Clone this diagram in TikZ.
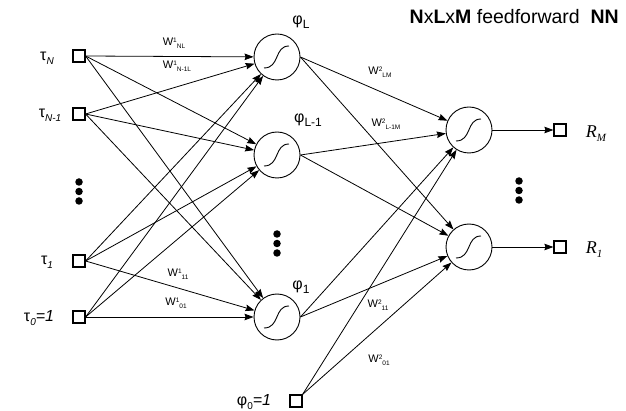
\documentclass[tikz,border=0pt]{standalone}
\usepackage{fontspec}
\setmainfont{Liberation Sans}
\newfontfamily\timesfam{Liberation Serif}
\usetikzlibrary{arrows.meta}

% lowered / raised small text for indices
\newcommand\lowidx[2]{\raisebox{-4pt}{\fontsize{#1}{#1}\selectfont #2}}
\newcommand\wlab[2]{W\raisebox{3.5pt}{\fontsize{6.5}{6.5}\selectfont #1}\raisebox{-2.5pt}{\fontsize{6.5}{6.5}\selectfont #2}}

\begin{document}
\begin{tikzpicture}[x=1pt,y=-1pt,
  iobox/.style={draw, line width=1.2pt, minimum size=12pt, inner sep=0pt},
  neuron/.style={draw, circle, line width=0.9pt, minimum size=46pt, inner sep=0pt},
  conn/.style={line width=0.8pt, -{Stealth[length=9pt,width=6.5pt,inset=1pt]}},
  bigdot/.style={fill, circle, inner sep=0pt, minimum size=7.5pt},
  glabel/.style={font=\fontsize{16}{16}\selectfont, inner sep=0pt},
  wlabel/.style={font=\fontsize{11}{11}\selectfont, inner sep=0pt},
  sigm/.pic={\draw[line width=0.9pt] (-13,11) .. controls (3,11) and (-3,-11) .. (12,-11);}
]
\useasboundingbox (0,0) rectangle (626,411);

% input terminals
\node[iobox] (tN)  at (79,56)  {};
\node[iobox] (tN1) at (79,114) {};
\node[iobox] (t1)  at (79,261) {};
\node[iobox] (t0)  at (79,317) {};

% hidden layer
\node[neuron] (hL)  at (277,57)  {};
\node[neuron] (hL1) at (277,155) {};
\node[neuron] (h1)  at (277,317) {};

% output layer
\node[neuron] (oM) at (469,130) {};
\node[neuron] (o1) at (469,247) {};

% output terminals and hidden bias
\node[iobox] (rM) at (560,130) {};
\node[iobox] (r1) at (560,247) {};
\node[iobox] (p0) at (296,401) {};

% sigmoid symbols
\foreach \n in {hL,hL1,h1,oM,o1} \pic at (\n) {sigm};

% connections input -> hidden
\foreach \i in {tN,tN1,t1,t0}
  \foreach \h in {hL,hL1,h1}
    \draw[conn] (\i.east) -- (\h);

% connections hidden -> output
\foreach \h in {hL,hL1,h1}
  \foreach \o in {oM,o1}
    \draw[conn] (\h.east) -- (\o);
\foreach \o in {oM,o1}
  \draw[conn] (p0.north east) -- (\o);

% outputs
\draw[conn] (oM.east) -- (rM.west);
\draw[conn] (o1.east) -- (r1.west);

% ellipsis dots
\foreach \y in {182,191.5,201} \node[bigdot] (dIn\y) at (79,\y) {};
\foreach \y in {234,243.5,253} \node[bigdot] (dHid\y) at (277,\y) {};
\foreach \y in {181,190.5,200} \node[bigdot] (dOut\y) at (519,\y) {};

% input labels
\node[glabel] (ltN)  at (47,58)  {τ\lowidx{10}{\itshape N}};
\node[glabel] (ltN1) at (50,115) {τ\lowidx{10}{\itshape N-1}};
\node[glabel] (lt1)  at (47,262) {τ\lowidx{10}{\itshape 1}};
\node[glabel] (lt0)  at (39,318) {τ\lowidx{10}{\itshape 0}\textit{=1}};

% hidden labels
\node[glabel] (lhL)  at (301,22)  {φ\lowidx{12}{L}};
\node[glabel] (lhL1) at (308,120) {φ\lowidx{12}{L-1}};
\node[glabel] (lh1)  at (301,287) {φ\lowidx{12}{1}};
\node[glabel] (lp0)  at (254,402) {φ\lowidx{10}{0}\textit{=1}};

% output labels
\node[inner sep=0pt, font=\timesfam\itshape\fontsize{18}{18}\selectfont] (lrM) at (596,134) {R\lowidx{11}{M}};
\node[inner sep=0pt, font=\timesfam\itshape\fontsize{18}{18}\selectfont] (lr1) at (594,250) {R\lowidx{11}{1}};

% weight labels
\node[wlabel] (w1) at (174,43)  {\wlab{1}{NL}};
\node[wlabel] (w2) at (177,66)  {\wlab{1}{N-1L}};
\node[wlabel] (w3) at (178,274) {\wlab{1}{11}};
\node[wlabel] (w4) at (176,303) {\wlab{1}{01}};
\node[wlabel] (w5) at (380,72)  {\wlab{2}{LM}};
\node[wlabel] (w6) at (386,124) {\wlab{2}{L-1M}};
\node[wlabel] (w7) at (378,305) {\wlab{2}{11}};
\node[wlabel] (w8) at (379,360) {\wlab{2}{01}};

% title
\node[anchor=east, inner sep=0pt, font=\fontsize{19.5}{19.5}\selectfont] (title) at (619,17)
  {\textbf{N}x\textbf{L}x\textbf{M} feedforward\ \ \textbf{NN}};
\end{tikzpicture}
\end{document}
